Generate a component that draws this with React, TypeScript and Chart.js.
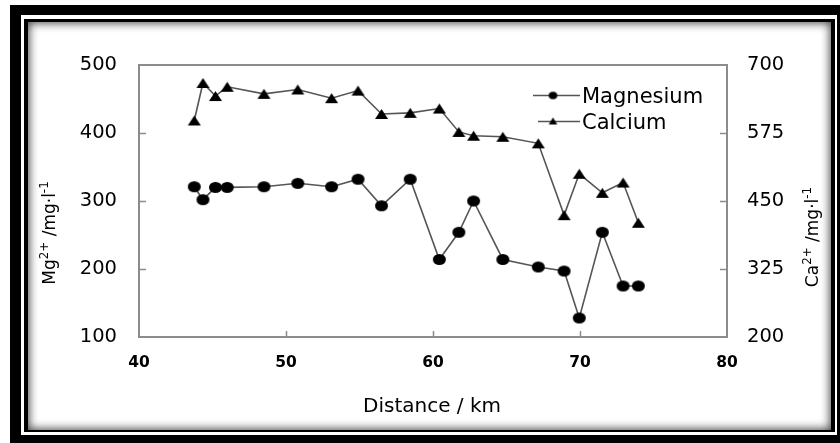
import React, { useEffect, useRef } from "react";
import { Chart, registerables } from "chart.js";

Chart.register(...registerables);

// ---- data ----
const distance = [43.76, 44.35, 45.2, 46.0, 48.5, 50.8, 53.1, 54.9, 56.5, 58.45, 60.43, 61.76, 62.76, 64.75, 67.16, 68.92, 69.95, 71.52, 72.93, 73.97];
const magnesium = [321, 302, 320, 320, 321, 326, 321, 332, 293, 332, 214, 254, 300, 214, 203, 197, 128, 254, 175, 175];
const calcium = [598, 667, 643, 660, 647, 655, 639, 653, 610, 612, 620, 577, 570, 568, 556, 424, 500, 465, 484, 410];
const xTicks = [40, 50, 60, 70, 80];
const mgTicks = [100, 200, 300, 400, 500];
const caTicks = [200, 325, 450, 575, 700];
const seriesNames = ["Magnesium", "Calcium"];
const xTitle = "Distance / km";
const mgTitle = [{ t: "Mg" }, { t: "2+", sup: true }, { t: " /mg·l" }, { t: "-1", sup: true }];
const caTitle = [{ t: "Ca" }, { t: "2+", sup: true }, { t: " /mg·l" }, { t: "-1", sup: true }];

const FONT = "'DejaVu Sans', sans-serif";
const AXIS = "#8c8c8c";
const LINE = "#555555";

function marker(kind: string, w: number, h: number) {
  const c = document.createElement("canvas");
  c.width = Math.ceil(w) + 2;
  c.height = Math.ceil(h) + 2;
  const g = c.getContext("2d")!;
  g.fillStyle = "#000";
  g.beginPath();
  if (kind === "circle") {
    g.ellipse(c.width / 2, c.height / 2, w / 2, h / 2, 0, 0, Math.PI * 2);
  } else {
    g.moveTo(c.width / 2, 1);
    g.lineTo(c.width / 2 + w / 2, 1 + h);
    g.lineTo(c.width / 2 - w / 2, 1 + h);
    g.closePath();
  }
  g.fill();
  return c;
}

function drawRich(ctx: CanvasRenderingContext2D, parts: any[], size: number, bx: number, by: number, rotate: boolean) {
  ctx.save();
  ctx.translate(bx, by);
  if (rotate) ctx.rotate(-Math.PI / 2);
  const fontOf = (p: any) => `${p.sup ? size * 0.7 : size}px ${FONT}`;
  const widths = parts.map((p) => {
    ctx.font = fontOf(p);
    return ctx.measureText(p.t).width;
  });
  const total = widths.reduce((a, b) => a + b, 0);
  let x = -total / 2;
  ctx.textAlign = "left";
  ctx.textBaseline = "alphabetic";
  ctx.fillStyle = "#000";
  parts.forEach((p, i) => {
    ctx.font = fontOf(p);
    ctx.fillText(p.t, x, p.sup ? -size * 0.42 : 0);
    x += widths[i];
  });
  ctx.restore();
}

export default function App() {
  const ref = useRef<HTMLCanvasElement>(null);

  useEffect(() => {
    const circle = marker("circle", 13, 11);
    const tri = marker("triangle", 13, 10);
    const circleS = marker("circle", 8.5, 7.5);
    const triS = marker("triangle", 8.5, 7);

    const decor = {
      id: "decor",
      beforeDatasetsDraw(chart: any) {
        const { ctx, chartArea: a, scales } = chart;
        ctx.save();
        ctx.strokeStyle = AXIS;
        ctx.lineWidth = 2;
        ctx.strokeRect(a.left, a.top, a.right - a.left, a.bottom - a.top);
        ctx.lineWidth = 1.5;
        ctx.beginPath();
        mgTicks.slice(1, -1).forEach((v) => {
          const y = Math.round(scales.y.getPixelForValue(v)) + 0.5;
          ctx.moveTo(a.left, y);
          ctx.lineTo(a.left + 7, y);
        });
        caTicks.slice(1, -1).forEach((v) => {
          const y = Math.round(scales.y1.getPixelForValue(v)) + 0.5;
          ctx.moveTo(a.right, y);
          ctx.lineTo(a.right - 7, y);
        });
        xTicks.slice(1, -1).forEach((v) => {
          const x = Math.round(scales.x.getPixelForValue(v)) + 0.5;
          ctx.moveTo(x, a.bottom);
          ctx.lineTo(x, a.bottom - 6);
        });
        ctx.stroke();
        ctx.restore();
      },
      afterDraw(chart: any) {
        const { ctx } = chart;
        // axis titles
        ctx.save();
        ctx.font = `20px ${FONT}`;
        ctx.fillStyle = "#000";
        ctx.textAlign = "center";
        ctx.textBaseline = "alphabetic";
        ctx.fillText(xTitle, 432, 412);
        ctx.restore();
        drawRich(ctx, mgTitle, 17, 55, 233, true);
        drawRich(ctx, caTitle, 17, 818, 237, true);
        // legend
        ctx.save();
        ctx.strokeStyle = LINE;
        ctx.lineWidth = 1.5;
        ctx.beginPath();
        ctx.moveTo(533, 95.5);
        ctx.lineTo(580, 95.5);
        ctx.moveTo(538, 121.5);
        ctx.lineTo(580, 121.5);
        ctx.stroke();
        ctx.drawImage(circleS, 553 - circleS.width / 2, 95.5 - circleS.height / 2);
        ctx.drawImage(triS, 553 - triS.width / 2, 121 - triS.height / 2);
        ctx.font = `21px ${FONT}`;
        ctx.fillStyle = "#000";
        ctx.textAlign = "left";
        ctx.textBaseline = "alphabetic";
        ctx.fillText(seriesNames[0], 582, 103);
        ctx.fillText(seriesNames[1], 582, 128.5);
        ctx.restore();
      },
    };

    const tickFont = { family: FONT, size: 19.5 };
    const chart = new Chart(ref.current!, {
      type: "line",
      data: {
        datasets: [
          {
            label: seriesNames[0],
            data: distance.map((x, i) => ({ x, y: magnesium[i] })),
            yAxisID: "y",
            borderColor: LINE,
            borderWidth: 1.6,
            pointStyle: circle as any,
            pointRadius: 6,
            fill: false,
            tension: 0,
          },
          {
            label: seriesNames[1],
            data: distance.map((x, i) => ({ x, y: calcium[i] })),
            yAxisID: "y1",
            borderColor: LINE,
            borderWidth: 1.6,
            pointStyle: tri as any,
            pointRadius: 6,
            fill: false,
            tension: 0,
          },
        ],
      },
      options: {
        responsive: false,
        animation: false,
        devicePixelRatio: 1,
        layout: { padding: { top: 65, left: 0, right: 0, bottom: 0 } },
        plugins: { legend: { display: false }, tooltip: { enabled: false } },
        scales: {
          x: {
            type: "linear",
            position: "bottom",
            min: 40,
            max: 80,
            afterBuildTicks: (s: any) => {
              s.ticks = xTicks.map((v) => ({ value: v }));
            },
            grid: { display: false, drawTicks: false },
            border: { display: false },
            ticks: { font: { family: FONT, size: 15.5, weight: "bold" }, color: "#000", padding: 17, maxRotation: 0, autoSkip: false },
            afterFit: (s: any) => {
              s.height = 106;
            },
          },
          y: {
            type: "linear",
            position: "left",
            min: 100,
            max: 500,
            afterBuildTicks: (s: any) => {
              s.ticks = mgTicks.map((v) => ({ value: v }));
            },
            grid: { display: false, drawTicks: false },
            border: { display: false },
            ticks: { font: tickFont, color: "#000", padding: 22 },
            afterFit: (s: any) => {
              s.width = 139;
            },
          },
          y1: {
            type: "linear",
            position: "right",
            min: 200,
            max: 700,
            afterBuildTicks: (s: any) => {
              s.ticks = caTicks.map((v) => ({ value: v }));
            },
            grid: { display: false, drawTicks: false },
            border: { display: false },
            ticks: { font: tickFont, color: "#000", padding: 20 },
            afterFit: (s: any) => {
              s.width = 113;
            },
          },
        },
      } as any,
      plugins: [decor],
    });
    return () => chart.destroy();
  }, []);

  return (
    <div style={{ position: "absolute", left: 0, top: 0, width: 840, height: 443, overflow: "hidden", background: "#fff" }}>
      <div style={{ position: "absolute", left: 10, top: 5, width: 830, height: 438, background: "#000" }} />
      <div style={{ position: "absolute", left: 21, top: 15, width: 816, height: 420, background: "#fff" }} />
      <div style={{ position: "absolute", left: 24, top: 19, width: 811, height: 413, background: "#000" }} />
      <div
        style={{
          position: "absolute",
          left: 28,
          top: 22,
          width: 803,
          height: 408,
          background: "#fff",
          boxShadow: "inset 0 0 10px 1px rgba(0,0,0,0.75)",
        }}
      />
      <canvas ref={ref} width={840} height={443} style={{ position: "absolute", left: 0, top: 0, width: 840, height: 443 }} />
    </div>
  );
}
